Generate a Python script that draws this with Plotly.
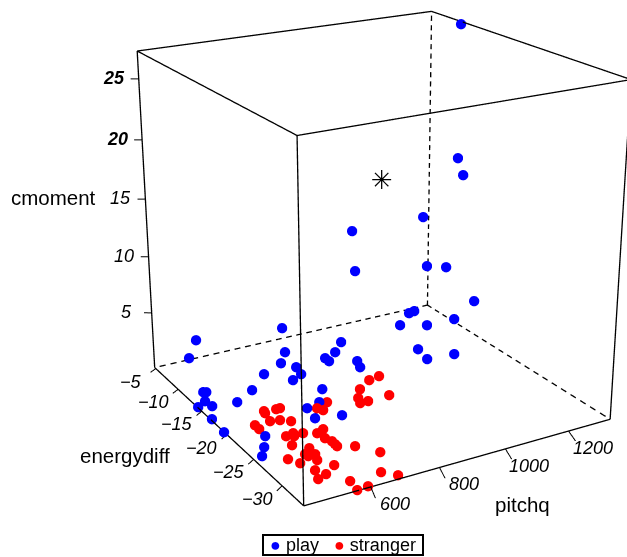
import numpy as np
import plotly.graph_objects as go

# ---- data ----
play_pitchq = [1331,1186,1191,1144,912,921,1159,1178,1203,1109,1089,1186,1031,1103,831,1014,1012,1096,826,819,791,751,754,674,639,597,596,668,702,506,489,675,643,661,590,627,654,537,489,451,456,437,440,415,416,398,472,451,432]
play_energydiff = [-9.93,-16.82,-17.45,-13.39,-13.39,-13.39,-13.39,-15.65,-19.08,-13.82,-13.95,-16.75,-15.41,-16.32,-15.86,-19.35,-20.96,-21.18,-18.98,-19.87,-17.06,-17.55,-18.08,-21.48,-22.98,-23.34,-24.75,-25.20,-12.50,-7.65,-7.14,-14.65,-15.83,-17.58,-15.87,-19.03,-18.90,-16.90,-17.08,-12.74,-13.03,-14.05,-15.31,-14.12,-16.86,-20.49,-23.42,-24.54,-25.34]
play_cmoment = [27.08,17.85,16.55,12.05,12.07,8.51,7.57,8.07,5.99,3.90,3.88,3.68,3.65,3.50,3.58,2.99,2.71,2.67,3.06,2.90,3.38,3.30,3.21,2.61,2.33,2.26,1.98,1.89,4.48,2.95,1.24,3.28,2.95,3.13,2.36,2.78,3.06,1.72,1.08,0.54,0.61,0.34,0.38,0.00,0.03,0.52,0.84,0.54,0.27]
stranger_pitchq = [846,812,768,828,744,738,762,658,621,632,516,514,540,548,507,525,541,475,475,505,522,518,538,572,594,581,592,594,595,638,498,525,504,508,528,522,467,479,553,499,518,491,687,651,686,562,563,595]
stranger_energydiff = [-21.62,-21.81,-22.65,-24.27,-23.68,-24.34,-24.34,-23.22,-23.64,-24.05,-20.47,-20.79,-21.23,-21.43,-22.14,-22.84,-23.84,-21.35,-22.14,-25.13,-25.35,-25.76,-26.10,-26.51,-26.24,-27.29,-27.82,-28.23,-28.50,-29.02,-26.59,-27.92,-28.45,-28.74,-28.73,-29.41,-27.75,-29.11,-30.40,-30.39,-31.09,-31.37,-30.36,-32.41,-33.17,-32.44,-33.50,-33.42]
stranger_cmoment = [2.59,2.55,2.39,2.08,2.20,2.07,2.07,2.28,2.20,2.12,1.45,1.42,1.75,1.86,1.33,1.57,1.77,0.90,0.89,1.30,1.52,1.47,1.71,1.62,1.68,1.46,1.34,1.25,1.19,1.08,1.21,1.32,1.21,1.14,1.14,0.99,0.78,0.94,0.76,0.76,0.60,0.53,0.77,0.28,0.08,0.27,0.00,0.02]
star_point = (954, -16.28, 16.99)
pitchq_ticks = [600, 800, 1000, 1200]
energydiff_ticks = [-5, -10, -15, -20, -25, -30]
cmoment_ticks = [5, 10, 15, 20, 25]
box_lo = (413.39, -33.58, -0.02)
box_hi = (1336.53, -4.74, 27.23)

# ---- view ----
W, H, WIN_H = 627, 1325, 557
TOP = (H - WIN_H) // 2
EXT = 0.08
FONT = "Liberation Sans"
lo, hi = np.array(box_lo), np.array(box_hi)
rlo, rhi = lo - (hi - lo) * EXT, hi + (hi - lo) * EXT
box_aspect = np.array([1, 0.9855, 1.0034]) * (1 + 2 * EXT)
def py(pix): return 1 - (pix + TOP) / H

fig = go.Figure()
def seg(xs, ys, zs, dash=False, n=0, w=2.6):
    if dash:
        X, Y, Z = [], [], []
        for i in range(n):
            a, b = i / n, (i + 0.55) / n
            for L, s in ((X, xs), (Y, ys), (Z, zs)):
                L += [s[0] + (s[1] - s[0]) * a, s[0] + (s[1] - s[0]) * b, None]
        xs, ys, zs = X, Y, Z
    fig.add_trace(go.Scatter3d(x=xs, y=ys, z=zs, mode="lines", line=dict(color="black", width=w),
                               showlegend=False, hoverinfo="skip"))
xa, xb = lo[0], hi[0]; ya, yb = lo[1], hi[1]; za, zb = lo[2], hi[2]
# solid edges
seg([xa, xb], [ya, ya], [za, za]); seg([xa, xa], [ya, yb], [za, za])
seg([xa, xa], [ya, ya], [za, zb]); seg([xa, xa], [yb, yb], [za, zb]); seg([xb, xb], [ya, ya], [za, zb])
seg([xa, xb], [ya, ya], [zb, zb]); seg([xa, xa], [ya, yb], [zb, zb])
seg([xa, xb], [yb, yb], [zb, zb]); seg([xb, xb], [ya, yb], [zb, zb])
# hidden edges
seg([xb, xa], [yb, yb], [za, za], True, 27); seg([xb, xb], [yb, ya], [za, za], True, 21)
seg([xb, xb], [yb, yb], [za, zb], True, 33)
# ticks
annos = []
def label(x, y, z, txt, dx, dy, weight="normal"):
    annos.append(dict(x=x, y=y, z=z, text=txt, showarrow=False, xshift=dx, yshift=-dy,
                      xanchor="center", yanchor="middle",
                      font=dict(family=FONT, size=18, color="black", style="italic", weight=weight)))
for v in pitchq_ticks:
    seg([v, v - 18], [ya, ya - 1.7], [za, za], w=2)
    label(v, ya, za, f"{v}", 24, 17)
for v in energydiff_ticks:
    seg([xa, xa - 23], [v, v - 0.5], [za, za], w=2)
    label(xa, v, za, f"\u2212{abs(v)}", -25, 13)
for v in cmoment_ticks:
    seg([xa, xa - 18.6], [yb, yb + 0.36], [v, v], w=2)
    label(xa, yb, v, f"{v}", -25, -1, "bold" if v >= 20 else "normal")
annos.append(dict(x=star_point[0], y=star_point[1], z=star_point[2], text="\u2733", showarrow=False,
                  xanchor="center", yanchor="middle", font=dict(family="DejaVu Sans", size=26, color="black")))

fig.add_trace(go.Scatter3d(x=play_pitchq, y=play_energydiff, z=play_cmoment, mode="markers", name="play",
                           showlegend=False, marker=dict(size=6, color="#0000ff", line=dict(width=0))))
fig.add_trace(go.Scatter3d(x=stranger_pitchq, y=stranger_energydiff, z=stranger_cmoment, mode="markers", name="stranger",
                           showlegend=False, marker=dict(size=6, color="#ff0000", line=dict(width=0))))

def title(txt, x, y):
    return dict(xref="paper", yref="paper", x=x / W, y=py(y), text=txt, showarrow=False, xanchor="center",
                yanchor="middle", font=dict(family=FONT, size=20.5, color="black"))
nb = "\u00a0"
key = dict(xref="paper", yref="paper", x=343 / W, y=py(545), xanchor="center", yanchor="middle", showarrow=False,
           text=f'<span style="color:#0000ff">\u25cf</span>{nb}play{nb*3}<span style="color:#ff0000">\u25cf</span>{nb}stranger',
           font=dict(family=FONT, size=18, color="black"), bordercolor="black", borderwidth=2, borderpad=0,
           bgcolor="white", width=158, height=18, align="center", valign="middle")

fig.update_layout(
    width=W, height=H, margin=dict(l=0, r=0, t=0, b=0), paper_bgcolor="white", font=dict(family=FONT),
    showlegend=False,
    annotations=[title("cmoment", 53, 197), title("energydiff", 125, 455), title("pitchq", 522, 504), key],
    scene=dict(domain=dict(x=[0, 1], y=[0, 1]), dragmode="orbit", aspectmode="manual",
               aspectratio=dict(x=box_aspect[0], y=box_aspect[1], z=box_aspect[2]),
               camera=dict(eye=dict(x=-2.189, y=-3.7309, z=1.5925), center=dict(x=-0.3331, y=-0.2524, z=0.0198),
                           up=dict(x=-0.905, y=-1.7028, z=1), projection=dict(type="perspective")),
               xaxis=dict(range=[rlo[0], rhi[0]], visible=False),
               yaxis=dict(range=[rlo[1], rhi[1]], visible=False),
               zaxis=dict(range=[rlo[2], rhi[2]], visible=False),
               annotations=annos))
fig.write_html("out.html", config={"displayModeBar": False},
               post_script=f"document.documentElement.style.overflow='hidden';document.body.style.overflow='hidden';"
                           f"document.body.style.margin='-{TOP}px 0 0 0';")
